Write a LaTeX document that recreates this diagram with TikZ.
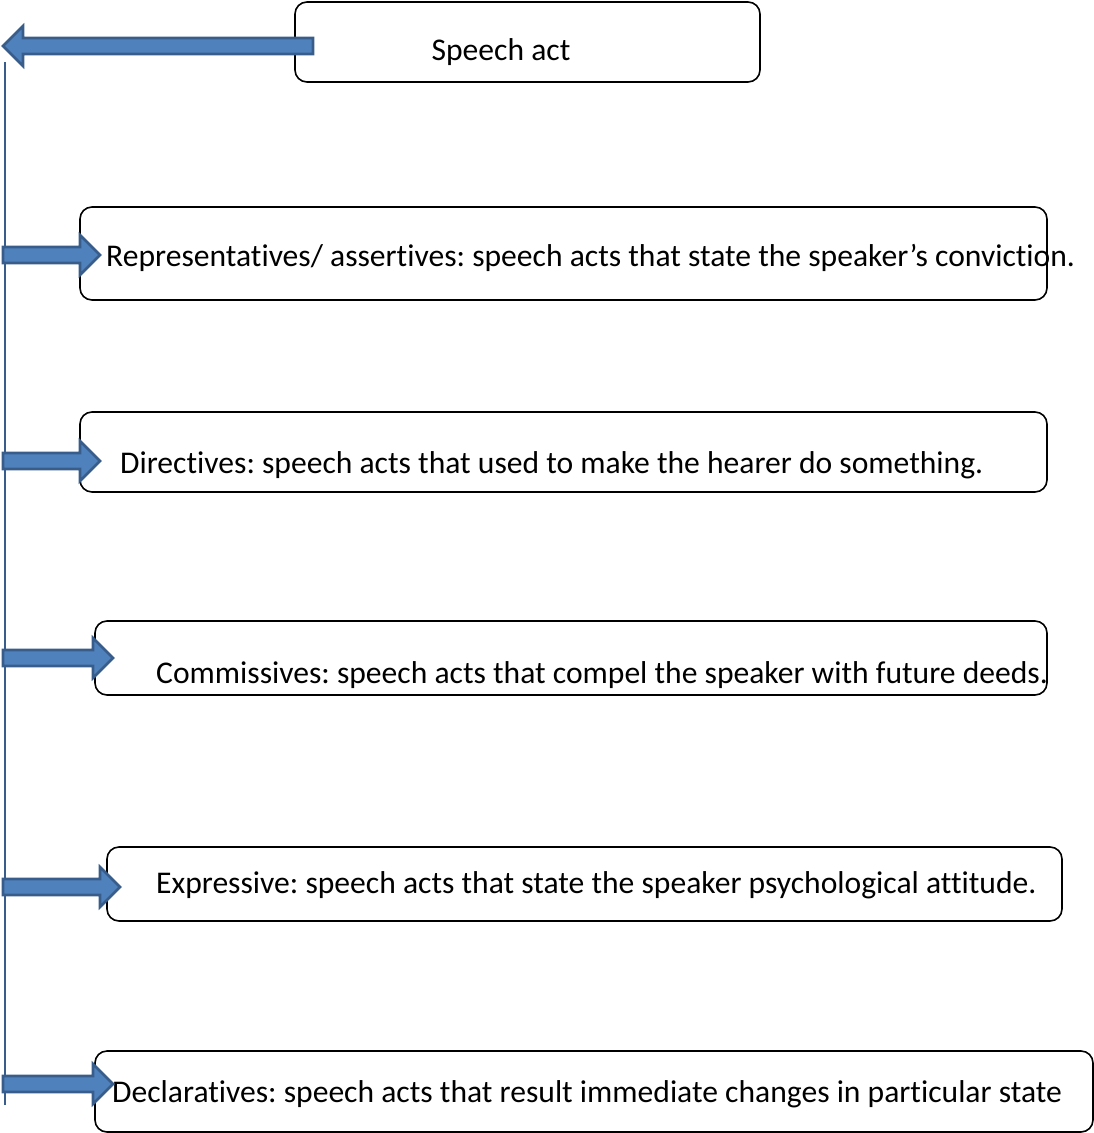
\documentclass[tikz,border=0pt]{standalone}
\usepackage{fontspec}
\setmainfont{Carlito}[Ligatures=NoCommon]
\frenchspacing
\usetikzlibrary{calc}

\definecolor{arrfill}{HTML}{4F81BD}
\definecolor{arrline}{HTML}{385D8A}

\tikzset{
  actbox/.style={draw=black, line width=1.6pt, rounded corners=12pt},
  acttext/.style={anchor=west, inner sep=0pt, font=\fontsize{31.6}{36}\selectfont},
  blockarr/.style={draw=arrline, fill=arrfill, line width=2.6pt,
    to path={let \p1=(\tikztostart), \p2=(\tikztotarget),
      \n1={sign(\x2-\x1)} in
      (\x1,\y1-8pt) -- (\x2-\n1*20pt,\y1-8pt) -- (\x2-\n1*20pt,\y1-20pt)
      -- (\x2,\y1) -- (\x2-\n1*20pt,\y1+20pt) -- (\x2-\n1*20pt,\y1+8pt)
      -- (\x1,\y1+8pt) -- cycle}}
}

\begin{document}
\begin{tikzpicture}[x=1pt,y=-1pt]
\useasboundingbox (0,0) rectangle (1094,1133);

% boxes
\draw[actbox] (295,2) rectangle (760,82);
\node[inner sep=0pt, font=\fontsize{31.6}{36}\selectfont] (root) at (501,52) {Speech act};

\draw[actbox] (80,207) rectangle (1047,300);
\node[acttext] (rep) at (106,258) {Representatives/ assertives: speech acts that state the speaker’s conviction.};

\draw[actbox] (80,412) rectangle (1047,492);
\node[acttext] (dir) at (120,465) {Directives: speech acts that used to make the hearer do something.};

\draw[actbox] (95,621) rectangle (1047,695);
\node[acttext] (com) at (156,675) {Commissives: speech acts that compel the speaker with future deeds.};

\draw[actbox] (107,847) rectangle (1062,921);
\node[acttext] (exp) at (156,885) {Expressive: speech acts that state the speaker psychological attitude.};

\draw[actbox] (95,1051) rectangle (1093,1132);
\node[acttext] (dec) at (112,1094) {Declaratives: speech acts that result immediate changes in particular state};

% spine
\coordinate (top) at (5,62);
\coordinate (bot) at (5,1105);
\draw[arrline, line width=1.6pt] (top) -- (bot);

% arrows
\coordinate (s0) at (313,46);  \coordinate (t0) at (3,46);
\coordinate (s1) at (3,255);   \coordinate (t1) at (100,255);
\coordinate (s2) at (3,461);   \coordinate (t2) at (100,461);
\coordinate (s3) at (3,658);   \coordinate (t3) at (113,658);
\coordinate (s4) at (3,887);   \coordinate (t4) at (120,887);
\coordinate (s5) at (3,1084);  \coordinate (t5) at (113,1084);

\draw[blockarr] (s0) to (t0);
\foreach \i in {1,...,5}
  \draw[blockarr] (s\i) to (t\i);
\end{tikzpicture}
\end{document}
